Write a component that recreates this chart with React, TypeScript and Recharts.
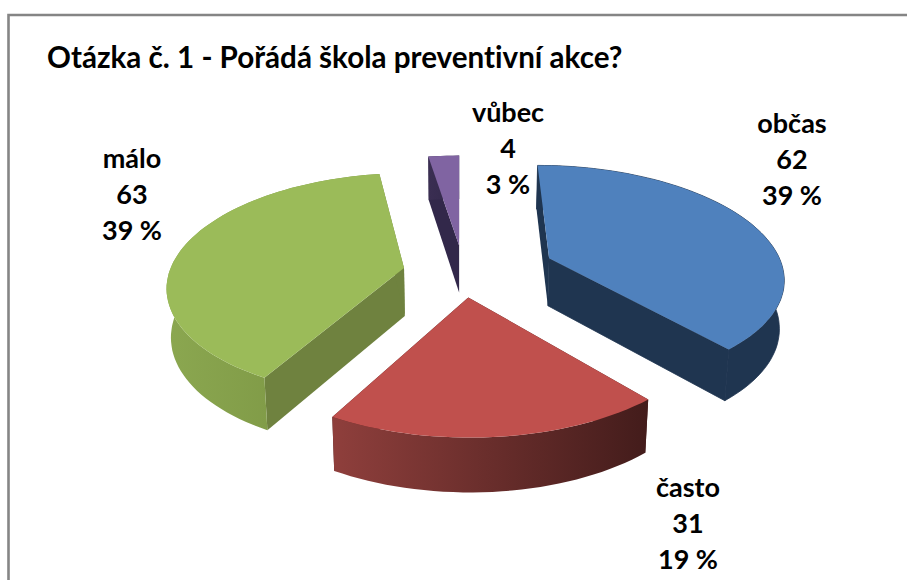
import React from "react";
import { PieChart, Pie } from "recharts";

const titleText = "Otázka č. 1 - Pořádá škola preventivní akce?";
const categories = ["občas", "často", "málo", "vůbec"];
const counts = [62, 31, 63, 4];

const topColors = ["#4f81bd", "#c0504d", "#9bbb59", "#8064a2"];
const cutColors = ["#1f3550", "#4a1f1e", "#6f823f", "#32284a"];
const wallFrom = ["#1f3550", "#8f3f3c", "#8ba750", "#3a2e52"];
const wallTo = ["#1f3550", "#431c1b", "#76903f", "#32284a"];
const explode: [number, number][] = [
  [0.387, -0.109],
  [0.034, 0.24],
  [-0.24, -0.018],
  [-0.004, -0.2316],
];
const labelPos: [number, number][] = [
  [792, 133],
  [688, 497],
  [132, 168],
  [508, 122],
];

const W = 907;
const H = 580;
const CX = 460;
const CY = 270;
const A = 234;
const B = 110;
const P = 0.15;
const rows = categories.map((name, i) => ({ name, value: counts[i] }));

function project(u: number, v: number) {
  const s = 1 / (1 - P * v);
  return { x: CX + A * u * s, y: CY + B * v * s, s };
}
function lower(p: { x: number; y: number; s: number }) {
  return { x: CX + (p.x - CX) * 0.985, y: p.y + 18 + 30 * p.s, s: p.s };
}
const pathOf = (pts: { x: number; y: number }[]) =>
  "M" + pts.map((p) => `${p.x.toFixed(1)},${p.y.toFixed(1)}`).join("L") + "Z";

function Slice3D(props: any) {
  const i = categories.indexOf(props.name ?? props.payload?.name);
  const [ou, ov] = explode[i];
  const a0 = 90 - props.startAngle;
  const a1 = 90 - props.endAngle;
  const arc: { x: number; y: number; s: number }[] = [];
  const n = Math.max(4, Math.ceil(Math.abs(a1 - a0) / 2));
  for (let k = 0; k <= n; k++) {
    const t = ((a0 + ((a1 - a0) * k) / n) * Math.PI) / 180;
    arc.push(project(ou + Math.sin(t), ov - Math.cos(t)));
  }
  const apex = project(ou, ov);
  const apexLow = lower(apex);
  const low = arc.map(lower);
  const wall = [...arc, ...low.slice().reverse()];
  const xs = wall.map((p) => p.x);
  const gid = `wall-${i}`;
  const seam = i === 0 ? cutColors[i] : "none";
  return (
    <g>
      <defs>
        <linearGradient
          id={gid}
          gradientUnits="userSpaceOnUse"
          x1={Math.min(...xs)}
          x2={Math.max(...xs)}
          y1={0}
          y2={0}
        >
          <stop offset="0" stopColor={wallFrom[i]} />
          <stop offset="1" stopColor={wallTo[i]} />
        </linearGradient>
      </defs>
      <path d={pathOf([arc[0], apex, apexLow, low[0]])} fill={cutColors[i]} />
      <path d={pathOf([arc[n], apex, apexLow, low[n]])} fill={cutColors[i]} stroke={seam} strokeWidth={0.8} />
      <path d={pathOf(wall)} fill={`url(#${gid})`} stroke={seam} strokeWidth={0.8} />
      <path d={pathOf([apex, ...arc])} fill={topColors[i]} />
    </g>
  );
}

function SliceLabel(props: any) {
  const i = categories.indexOf(props.name ?? props.payload?.name);
  const [x, y] = labelPos[i];
  const lines = [categories[i], String(counts[i]), `${Math.round(props.percent * 100)} %`];
  return (
    <text
      x={x}
      y={y}
      textAnchor="middle"
      fontFamily="Lato, 'Open Sans', sans-serif"
      fontWeight={700}
      fontSize={27}
      fill="#000"
    >
      {lines.map((l, k) => (
        <tspan key={k} x={x} y={y + k * 36}>
          {l}
        </tspan>
      ))}
    </text>
  );
}

export default function App() {
  return (
    <div style={{ position: "absolute", left: 0, top: 0, width: W, height: H, background: "#fff" }}>
      <PieChart width={W} height={H} margin={{ top: 0, right: 0, bottom: 0, left: 0 }}>
        <path d={`M8.5,${H} L8.5,15 L${W},15`} fill="none" stroke="#858585" strokeWidth={2.6} />
        <text
          x={47}
          y={68}
          fontFamily="Lato, 'Open Sans', sans-serif"
          fontWeight={700}
          fontSize={29.6}
          style={{ fontVariantLigatures: "none" }}
          fill="#000"
        >
          {titleText}
        </text>
        <Pie
          data={rows}
          dataKey="value"
          nameKey="name"
          cx={CX}
          cy={CY}
          outerRadius={100}
          startAngle={90}
          endAngle={-270}
          paddingAngle={0}
          stroke="none"
          isAnimationActive={false}
          labelLine={false}
          label={SliceLabel}
          shape={Slice3D}
        />
      </PieChart>
    </div>
  );
}
